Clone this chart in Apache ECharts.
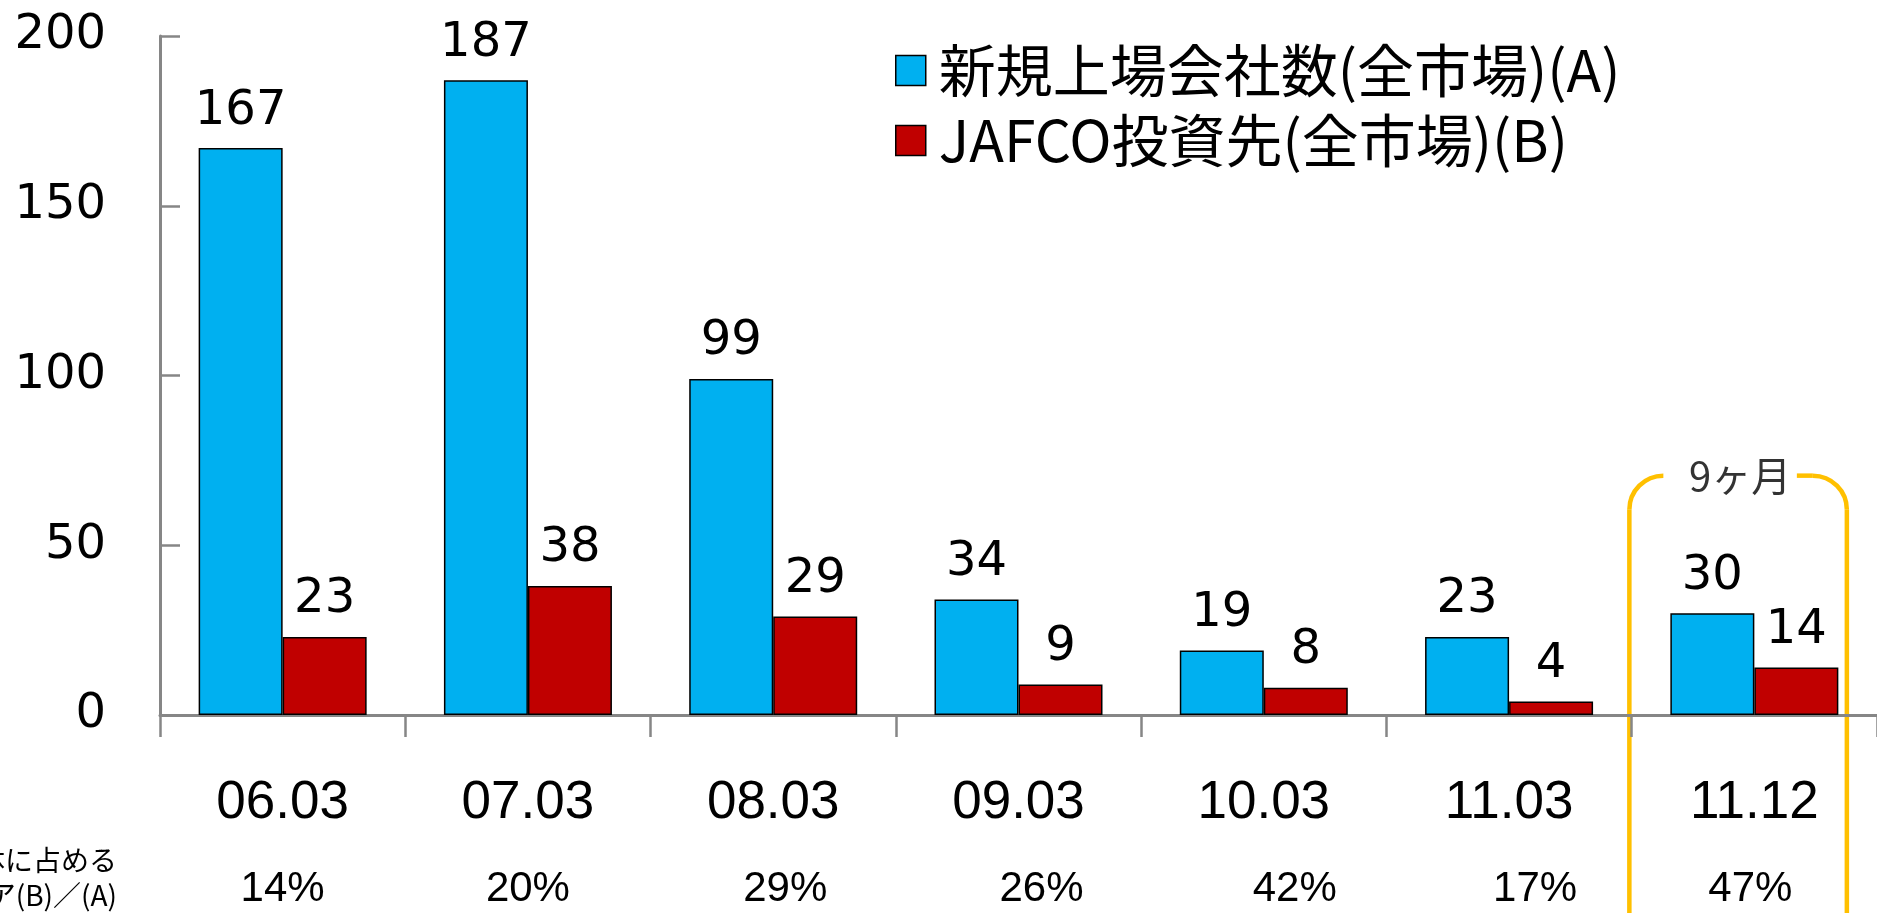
<!DOCTYPE html>
<html>
<head>
<meta charset="utf-8">
<script src="https://cdn.jsdelivr.net/npm/echarts@6/dist/echarts.min.js"></script>
<style>
  html, body { margin: 0; padding: 0; background: #fff; }
  #chart { width: 1877px; height: 913px; }
</style>
</head>
<body>
<div id="chart"></div>
<script>
const categories = ['06.03', '07.03', '08.03', '09.03', '10.03', '11.03', '11.12'];
const newListings = [167, 187, 99, 34, 19, 23, 30];
const jafcoListings = [23, 38, 29, 9, 8, 4, 14];
const shares = ['14%', '20%', '29%', '26%', '42%', '17%', '47%'];
const seriesNames = ['新規上場会社数(全市場)(A)', 'JAFCO投資先(全市場)(B)'];
const shareCaption = ['全体に占める', 'シェア(B)／(A)'];
const bracketNote = '9ヶ月';

const numFont = 'DejaVu Sans';
const jpFont = '"Noto Sans CJK JP"';
const axisGray = '#868686';
const gridW = 1750;
// the share row in the original sits a little off the category centres
const shareNudge = [0, 0, 12, 23, 31, 26, -4];

const chart = echarts.init(document.getElementById('chart'));

const barLabel = {
  show: true,
  position: 'top',
  distance: 13,
  color: '#000',
  fontFamily: numFont,
  fontSize: 48
};

const shareRich = {};
shareNudge.forEach((d, i) => {
  shareRich['p' + i] = {
    fontFamily: 'Liberation Sans',
    fontSize: 42,
    lineHeight: 84,
    color: '#000',
    padding: d >= 0 ? [0, 0, 0, 2 * d] : [0, -2 * d, 0, 0]
  };
});

const option = {
  backgroundColor: '#fff',
  animation: false,
  grid: { left: 160, top: 36, width: gridW, height: 679 },
  legend: {
    orient: 'vertical',
    left: 895,
    top: 42,
    padding: 0,
    itemWidth: 30,
    itemHeight: 30,
    itemGap: 13,
    icon: 'rect',
    itemStyle: { borderColor: '#000', borderWidth: 1.5 },
    textStyle: {
      color: '#000',
      fontFamily: jpFont,
      fontSize: 57,
      lineHeight: 57,
      padding: [0, 0, 0, 8]
    },
    data: seriesNames
  },
  xAxis: {
    type: 'category',
    data: categories,
    axisLine: { lineStyle: { color: axisGray, width: 3 } },
    axisTick: { show: true, length: 22, lineStyle: { color: axisGray, width: 2.5 } },
    axisLabel: {
      margin: 44,
      interval: 0,
      formatter: (value, idx) => `{c|${value}}\n{p${idx}|${shares[idx]}}`,
      rich: Object.assign({
        c: { fontFamily: 'Liberation Sans', fontSize: 53, lineHeight: 88, color: '#000' }
      }, shareRich)
    }
  },
  yAxis: {
    type: 'value',
    min: 0,
    max: 200,
    interval: 50,
    axisLine: { show: true, lineStyle: { color: axisGray, width: 3 } },
    axisTick: { show: true, inside: true, length: 20, lineStyle: { color: axisGray, width: 2.5 } },
    splitLine: { show: false },
    axisLabel: { margin: 54, color: '#000', fontFamily: numFont, fontSize: 48 }
  },
  series: [{
    name: seriesNames[0],
    type: 'bar',
    data: newListings,
    barWidth: 84,
    barGap: 0,
    itemStyle: { color: '#00B0F0', borderColor: '#000', borderWidth: 1.5 },
    label: barLabel
  }, {
    name: seriesNames[1],
    type: 'bar',
    data: jafcoListings,
    barWidth: 84,
    barGap: 0,
    itemStyle: { color: '#C00000', borderColor: '#000', borderWidth: 1.5 },
    label: barLabel
  }]
};

chart.setOption(option);

// bracket round the last (partial-year) group, placed from the axis scale
const lastIdx = categories.length - 1;
const band = gridW / categories.length;
const cx = chart.convertToPixel({ xAxisIndex: 0 }, categories[lastIdx]);
const topY = chart.convertToPixel({ yAxisIndex: 0 }, 70.5);
const xL = cx - band / 2;
const xR = cx + band * 0.37;
const r = 34;
const bottomY = 940;
const orange = { stroke: '#FFC000', lineWidth: 4.5, fill: 'none' };

chart.setOption({
  graphic: [
    { type: 'line', shape: { x1: xL, y1: topY + r, x2: xL, y2: bottomY }, style: orange, silent: true },
    { type: 'arc', shape: { cx: xL + r, cy: topY + r, r: r, startAngle: Math.PI, endAngle: Math.PI * 1.5, clockwise: true }, style: orange, silent: true },
    { type: 'line', shape: { x1: xR - 50, y1: topY, x2: xR - r, y2: topY }, style: orange, silent: true },
    { type: 'arc', shape: { cx: xR - r, cy: topY + r, r: r, startAngle: Math.PI * 1.5, endAngle: Math.PI * 2, clockwise: true }, style: orange, silent: true },
    { type: 'line', shape: { x1: xR, y1: topY + r, x2: xR, y2: bottomY }, style: orange, silent: true },
    {
      type: 'text', x: (xL + xR) / 2 + 2, y: topY,
      style: { text: bracketNote, fill: '#333', font: `40px ${jpFont}`, align: 'center', verticalAlign: 'middle' }
    },
    {
      type: 'text', x: 117, y: 860,
      style: { text: shareCaption[0], fill: '#000', font: `28px ${jpFont}`, align: 'right', verticalAlign: 'middle' }
    },
    {
      type: 'text', x: 117, y: 895,
      style: { text: shareCaption[1], fill: '#000', font: `28px ${jpFont}`, align: 'right', verticalAlign: 'middle' }
    }
  ]
});
</script>
</body>
</html>
